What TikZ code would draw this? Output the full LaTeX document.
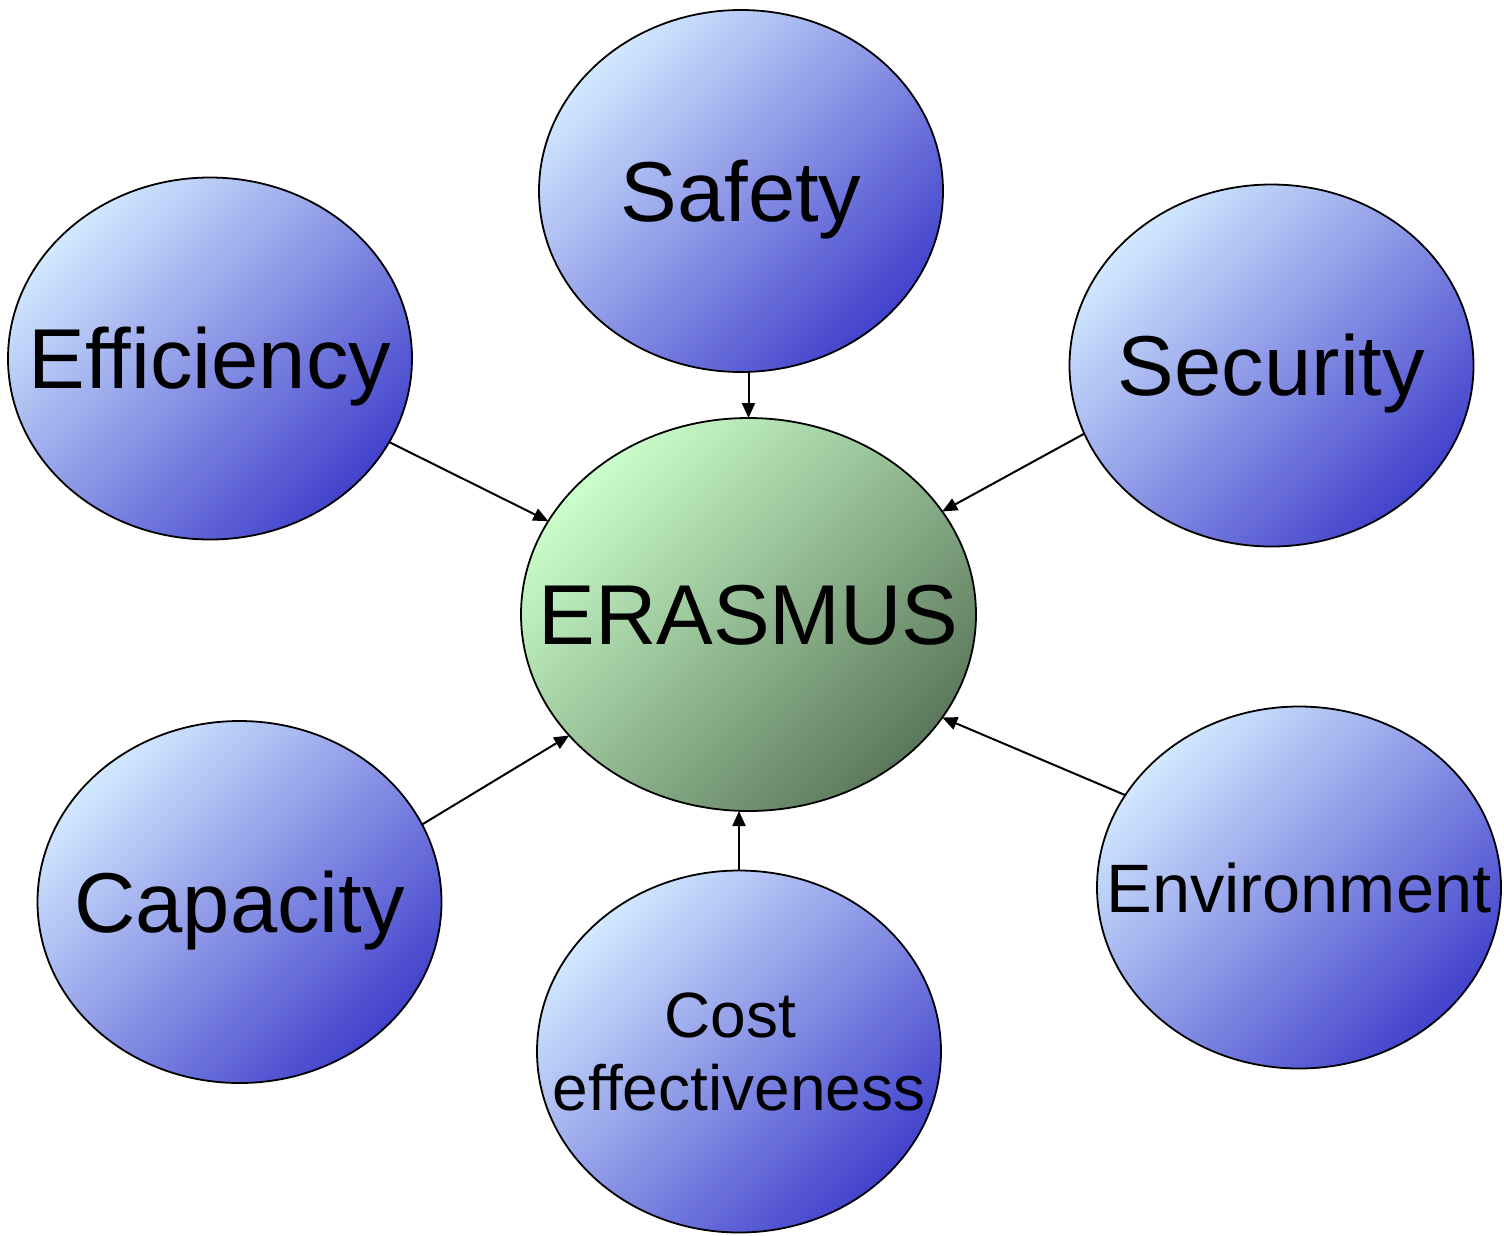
\documentclass[tikz,border=0pt]{standalone}
\usepackage{fontspec}
\setmainfont{Liberation Sans}[Ligatures=NoCommon]
\usetikzlibrary{shapes.geometric,arrows.meta}
\definecolor{blueLight}{HTML}{D2E8FF}
\definecolor{blueDark}{HTML}{4242CC}
\definecolor{greenLight}{HTML}{CAFECA}
\definecolor{greenDark}{HTML}{5C785C}
\begin{document}
\begin{tikzpicture}[x=1pt,y=-1pt,
  bubble/.style={ellipse, draw=black, line width=1.8pt, inner sep=0pt, outer sep=0pt,
    minimum width=404pt, minimum height=362pt,
    top color=blueLight, bottom color=blueDark, shading angle=45},
  hub/.style={ellipse, draw=black, line width=1.8pt, inner sep=0pt, outer sep=0pt,
    minimum width=455pt, minimum height=393pt,
    top color=greenLight, bottom color=greenDark, shading angle=45},
  caption/.style={inner sep=0pt, text height=60.9pt, text depth=0pt,
    font=\fontsize{85}{100}\selectfont},
  smallcaption/.style={inner sep=0pt, text height=49pt, text depth=0pt,
    font=\fontsize{68.5}{80}\selectfont},
  link/.style={line width=2pt, -{Triangle[length=15pt,width=13pt]}}]

\useasboundingbox (0,0) rectangle (1504,1235);

% bubbles
\node[bubble] (safety)   at (741,191)     {};
\node[bubble] (eff)      at (210,358.5)   {};
\node[bubble] (sec)      at (1271.5,365.5){};
\node[hub]    (erasmus)  at (748.5,614.5) {};
\node[bubble] (cap)      at (239.5,902)   {};
\node[bubble] (cost)     at (739,1051.5)  {};
\node[bubble] (env)      at (1299,887.5)  {};

% labels
\node[caption] (tsafety)  at (safety)  {Safety};
\node[caption] (teff)     at (eff)     {Efficiency};
\node[caption] (tsec)     at (sec)     {Security};
\node[caption] (terasmus) at (erasmus) {ERASMUS};
\node[caption] (tcap)     at (cap)     {Capacity};
\node[smallcaption] (tenv) at (env)    {Environment};
\node[inner sep=0pt, align=center, font=\fontsize{64}{73}\selectfont] (tcost)
  at (cost) {Cost\hspace*{18pt}\\effectiveness};

% connectors into the hub
\draw[link] (erasmus.north |- safety.south) -- (erasmus.north);
\draw[link] (eff.-25.9) -- (erasmus.155.4);
\draw[link] (sec.-160.2) -- (erasmus.28);
\draw[link] (cap.23.6) -- (erasmus.-146.1);
\draw[link] (cost.north) -- (cost.north |- erasmus.south);
\draw[link] (env.152.3) -- (erasmus.-28.3);
\end{tikzpicture}
\end{document}
